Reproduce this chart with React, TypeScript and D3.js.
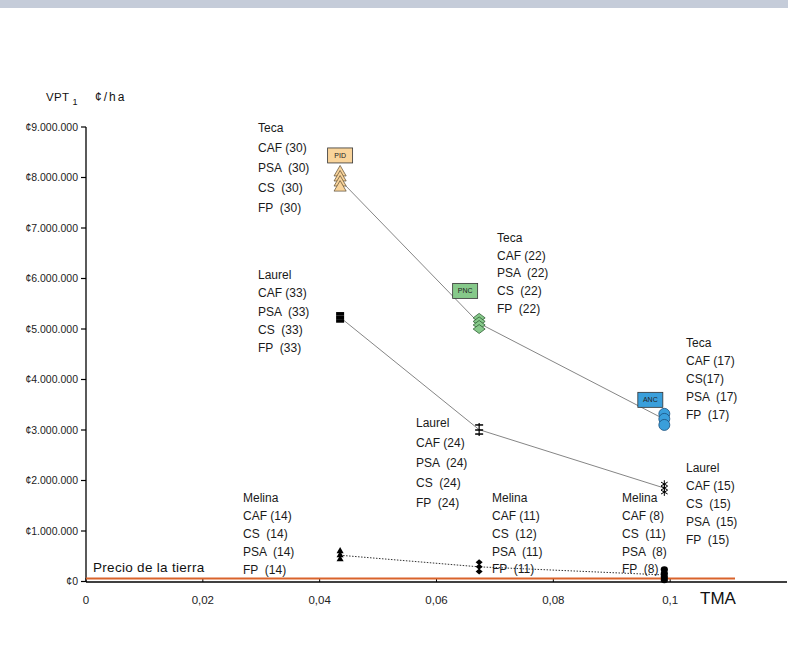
import * as d3 from "d3";

// TMA (tasa mínima de atracción) for the three cases
const tmaValues = [0.0435, 0.0673, 0.099];
const caseNames = ["PID", "PNC", "ANC"];

// VPT1 (¢/ha) per species, per TMA, stacked markers
const tecaVPT = [
  [8.1e6, 8.0e6, 7.9e6, 7.8e6],
  [5.22e6, 5.15e6, 5.08e6, 5.0e6],
  [3.32e6, 3.22e6, 3.1e6],
];
const laurelVPT = [
  [5.3e6, 5.23e6, 5.16e6],
  [3.1e6, 3.0e6, 2.92e6],
  [1.93e6, 1.85e6, 1.77e6],
];
const melinaVPT = [
  [0.6e6, 0.52e6, 0.44e6],
  [0.38e6, 0.29e6, 0.2e6],
  [0.24e6, 0.16e6, 0.09e6, 0.03e6],
];
const precioTierra = 60000;

const yTicks = d3.range(0, 9000001, 1000000);
const xTicks = [0, 0.02, 0.04, 0.06, 0.08, 0.1];

const tecaLabels = [
  ["Teca", "CAF (30)", "PSA  (30)", "CS  (30)", "FP  (30)"],
  ["Teca", "CAF (22)", "PSA  (22)", "CS  (22)", "FP  (22)"],
  ["Teca", "CAF (17)", "CS(17)", "PSA  (17)", "FP  (17)"],
];
const laurelLabels = [
  ["Laurel", "CAF (33)", "PSA  (33)", "CS  (33)", "FP  (33)"],
  ["Laurel", "CAF (24)", "PSA  (24)", "CS  (24)", "FP  (24)"],
  ["Laurel", "CAF (15)", "CS  (15)", "PSA  (15)", "FP  (15)"],
];
const melinaLabels = [
  ["Melina", "CAF (14)", "CS  (14)", "PSA  (14)", "FP  (14)"],
  ["Melina", "CAF (11)", "CS  (12)", "PSA  (11)", "FP  (11)"],
  ["Melina", "CAF (8)", "CS  (11)", "PSA  (8)", "FP  (8)"],
];

const W = 788;
const H = 656;
const FONT = "'Liberation Sans', Arial, Helvetica, sans-serif";

const x = d3.scaleLinear().domain([0, 0.12]).range([86, 787]);
const y = d3.scaleLinear().domain([0, 9000000]).range([581.5, 127]);

const fmtY = (v: number) => "¢" + d3.format(",")(v).replace(/,/g, ".");
const fmtX = (v: number) => (v === 0 ? "0" : String(v).replace(".", ","));

// label block layout (pixel positions, first-line centre, line step)
const blockPos = {
  teca: [[258, 128, 20], [497, 238, 17.6], [686, 343, 18]],
  laurel: [[258, 275, 18.2], [416, 423, 20], [686, 468, 18]],
  melina: [[243, 498, 18], [492, 498, 17.8], [622, 498, 17.8]],
};
const caseColors = ["#f9d49b", "#86c98a", "#3a9fdb"];
const caseStroke = ["#5a4a30", "#2f5e33", "#1b4f7c"];
const boxOffset = [-17, -27, -14];

const mean = (a: number[]) => d3.mean(a) as number;
const line = d3.line<[number, number]>().x(d => x(d[0])).y(d => y(d[1]));
const diamondPath = (w: number, h: number) => `M0,${-h / 2}L${w / 2},0L0,${h / 2}L${-w / 2},0Z`;

function Block({ lines, pos }: { lines: string[]; pos: number[] }) {
  return (
    <g>
      {lines.map((t, i) => (
        <text key={i} x={pos[0]} y={pos[1] + i * pos[2]} dy="0.35em"
          fontSize={12} fill="#1a1a1a" style={{ whiteSpace: "pre" }}>{t}</text>
      ))}
    </g>
  );
}

export default function App() {
  const tri = d3.symbol().type(d3.symbolTriangle);
  const ast = d3.symbol().type(d3.symbolAsterisk);

  return (
    <svg width={W} height={H} style={{ position: "absolute", left: 0, top: 0, background: "#fff" }}
      fontFamily={FONT}>
      <rect x={0} y={0} width={W} height={8} fill="#c5ccd9" />

      {/* axis title */}
      <text x={46} y={101} fontSize={11.5} fill="#111" letterSpacing={0.3}>VPT</text>
      <text x={72.5} y={105} fontSize={9} fill="#111">1</text>
      <text x={95} y={101} fontSize={12} fill="#111" letterSpacing={2}>¢/ha</text>

      {/* y axis */}
      <line x1={86} x2={86} y1={y(9000000)} y2={582} stroke="#000" strokeWidth={1.3} />
      {yTicks.map(t => (
        <g key={t}>
          <line x1={81} x2={86} y1={y(t)} y2={y(t)} stroke="#000" strokeWidth={1.2} />
          <text x={78} y={y(t)} dy="0.35em" textAnchor="end" fontSize={10.5} fill="#222">{fmtY(t)}</text>
        </g>
      ))}

      {/* x axis */}
      <line x1={86} x2={787} y1={582} y2={582} stroke="#000" strokeWidth={1.3} />
      {xTicks.map(t => (
        <g key={t}>
          <line x1={x(t)} x2={x(t)} y1={582} y2={578} stroke="#000" strokeWidth={1} />
          <text x={x(t)} y={600} dy="0.35em" textAnchor="middle" fontSize={11.5} fill="#222">{fmtX(t)}</text>
        </g>
      ))}
      <text x={700} y={604} fontSize={17} fill="#111">TMA</text>

      {/* land price */}
      <line x1={86} x2={735} y1={y(precioTierra)} y2={y(precioTierra)} stroke="#d9632b" strokeWidth={2} />
      <text x={93} y={572} fontSize={13.5} fill="#111" letterSpacing={0.3}>Precio de la tierra</text>

      {/* connecting lines */}
      <path d={line(tmaValues.map((t, i) => [t, mean(tecaVPT[i])]) as any) as string} fill="none" stroke="#777" strokeWidth={0.9} />
      <path d={line(tmaValues.map((t, i) => [t, mean(laurelVPT[i])]) as any) as string} fill="none" stroke="#777" strokeWidth={0.9} />
      <path d={line(tmaValues.map((t, i) => [t, mean(melinaVPT[i])]) as any) as string} fill="none" stroke="#333" strokeWidth={1} strokeDasharray="1.5,1.5" />

      {/* label blocks */}
      {tecaLabels.map((l, i) => <Block key={"t" + i} lines={l} pos={blockPos.teca[i]} />)}
      {laurelLabels.map((l, i) => <Block key={"l" + i} lines={l} pos={blockPos.laurel[i]} />)}
      {melinaLabels.map((l, i) => <Block key={"m" + i} lines={l} pos={blockPos.melina[i]} />)}

      {/* Teca markers */}
      {tecaVPT[0].map((v, j) => (
        <path key={"tt" + j} d={tri.size(64)() as string} transform={`translate(${x(tmaValues[0])},${y(v)})`}
          fill={caseColors[0]} stroke={caseStroke[0]} strokeWidth={0.7} />
      ))}
      {tecaVPT[1].map((v, j) => (
        <path key={"td" + j} d={diamondPath(12, 9)} transform={`translate(${x(tmaValues[1])},${y(v)})`}
          fill={caseColors[1]} stroke={caseStroke[1]} strokeWidth={0.8} />
      ))}
      {tecaVPT[2].map((v, j) => (
        <circle key={"tc" + j} cx={x(tmaValues[2])} cy={y(v)} r={5.5}
          fill={caseColors[2]} stroke={caseStroke[2]} strokeWidth={0.8} />
      ))}

      {/* case boxes */}
      {tmaValues.map((t, i) => {
        const top = y(d3.max(tecaVPT[i]) as number);
        const cx = x(t) + (i === 0 ? 0 : -14);
        const cy = top + boxOffset[i];
        return (
          <g key={"b" + i}>
            <rect x={cx - 12.5} y={cy - 7.5} width={25} height={15} fill={caseColors[i]} stroke="#333" strokeWidth={0.8} />
            <text x={cx} y={cy} dy="0.35em" textAnchor="middle" fontSize={7} fill="#222">{caseNames[i]}</text>
          </g>
        );
      })}

      {/* Laurel markers */}
      {laurelVPT[0].map((v, j) => (
        <rect key={"lr" + j} x={x(tmaValues[0]) - 4} y={y(v) - 1.8} width={8} height={3.6} fill="#000" />
      ))}
      <line x1={x(tmaValues[1])} x2={x(tmaValues[1])} y1={y(laurelVPT[1][0]) - 2} y2={y(laurelVPT[1][2]) + 2} stroke="#000" strokeWidth={1.2} />
      {laurelVPT[1].map((v, j) => (
        <line key={"lp" + j} x1={x(tmaValues[1]) - 4} x2={x(tmaValues[1]) + 4} y1={y(v)} y2={y(v)} stroke="#000" strokeWidth={1.5} />
      ))}
      {laurelVPT[2].map((v, j) => (
        <path key={"la" + j} d={ast.size(40)() as string} transform={`translate(${x(tmaValues[2])},${y(v)})`}
          fill="none" stroke="#000" strokeWidth={1} />
      ))}

      {/* Melina markers */}
      {melinaVPT[0].map((v, j) => (
        <path key={"mt" + j} d={tri.size(22)() as string} transform={`translate(${x(tmaValues[0])},${y(v)})`} fill="#000" />
      ))}
      {melinaVPT[1].map((v, j) => (
        <path key={"md" + j} d={diamondPath(7, 6)} transform={`translate(${x(tmaValues[1])},${y(v)})`} fill="#000" />
      ))}
      {melinaVPT[2].map((v, j) => (
        <ellipse key={"mc" + j} cx={x(tmaValues[2])} cy={y(v)} rx={3.6} ry={3.2} fill="#000" />
      ))}
    </svg>
  );
}
